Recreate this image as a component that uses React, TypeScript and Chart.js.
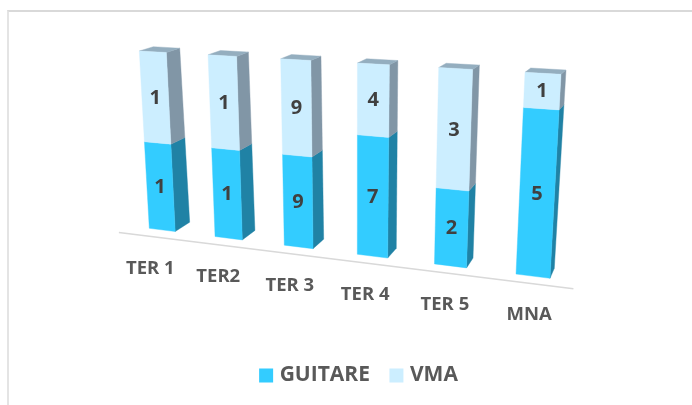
import React, { useEffect, useRef } from "react";
import { Chart, registerables } from "chart.js";

Chart.register(...registerables);

const categories = ["TER 1", "TER2", "TER 3", "TER 4", "TER 5", "MNA"];
const guitare = [1, 1, 9, 7, 2, 5];
const vma = [1, 1, 9, 4, 3, 1];

const shareOf = (own: number[], other: number[]) =>
  own.map((v, i) => (v / (v + other[i])) * 100);

type Pt = [number, number];

// Camera: where the plot's front and rear planes land on the picture
const FRONT_PLANE: Pt[] = [[149.3, 228.3], [550, 278.3], [561, 74.3], [139.3, 51]];
const REAR_PLANE: Pt[] = [[164.5, 219], [554.3, 268.3], [566, 70], [153.3, 46.7]];
const BAR_SHARE = 0.4;
const AXIS_DEPTH = -0.72;
const LABEL_DEPTH = -0.8;
const LABEL_DROP = 31;

function homography(src: Pt[], dst: Pt[]) {
  const a: number[][] = [];
  for (let i = 0; i < 4; i++) {
    const [x, y] = src[i];
    const [X, Y] = dst[i];
    a.push([x, y, 1, 0, 0, 0, -x * X, -y * X, X]);
    a.push([0, 0, 0, x, y, 1, -x * Y, -y * Y, Y]);
  }
  for (let c = 0; c < 8; c++) {
    let p = c;
    for (let r = c + 1; r < 8; r++) if (Math.abs(a[r][c]) > Math.abs(a[p][c])) p = r;
    [a[c], a[p]] = [a[p], a[c]];
    for (let r = 0; r < 8; r++) {
      if (r === c) continue;
      const f = a[r][c] / a[c][c];
      for (let k = c; k < 9; k++) a[r][k] -= f * a[c][k];
    }
  }
  const h = a.map((row, i) => row[8] / row[i]);
  return (x: number, y: number): Pt => {
    const w = h[6] * x + h[7] * y + 1;
    return [(h[0] * x + h[1] * y + h[2]) / w, (h[3] * x + h[4] * y + h[5]) / w];
  };
}

function fillPoly(ctx: CanvasRenderingContext2D, pts: Pt[], color: string) {
  ctx.beginPath();
  pts.forEach((p, i) => (i ? ctx.lineTo(p[0], p[1]) : ctx.moveTo(p[0], p[1])));
  ctx.closePath();
  ctx.fillStyle = color;
  ctx.strokeStyle = color;
  ctx.lineWidth = 0.4;
  ctx.fill();
  ctx.stroke();
}

const perspectiveBars = {
  id: "perspectiveBars",
  beforeDatasetsDraw(chart: any) {
    const ctx: CanvasRenderingContext2D = chart.ctx;
    const xs = chart.scales.x;
    const ys = chart.scales.y;
    const n = categories.length;
    const band = (xs.right - xs.left) / n;
    const half = (band * BAR_SHARE) / 2;
    const l = xs.getPixelForTick(0) - half;
    const r = xs.getPixelForTick(n - 1) + half;
    const b = ys.getPixelForValue(0);
    const t = ys.getPixelForValue(100);
    const src: Pt[] = [[l, b], [r, b], [r, t], [l, t]];
    const front = homography(src, FRONT_PLANE);
    const rear = homography(src, REAR_PLANE);
    const atDepth = (x: number, y: number, d: number): Pt => {
      const f = front(x, y);
      const g = rear(x, y);
      return [f[0] + d * (g[0] - f[0]), f[1] + d * (g[1] - f[1])];
    };

    ctx.save();

    // floor line
    ctx.beginPath();
    const a0 = atDepth(xs.left, b, AXIS_DEPTH);
    const a1 = atDepth(xs.right, b, AXIS_DEPTH);
    ctx.moveTo(a0[0], a0[1]);
    ctx.lineTo(a1[0], a1[1]);
    ctx.strokeStyle = "#d9d9d9";
    ctx.lineWidth = 1.5;
    ctx.stroke();

    // bars
    chart.data.datasets.forEach((ds: any, di: number) => {
      const last = di === chart.data.datasets.length - 1;
      chart.getDatasetMeta(di).data.forEach((el: any) => {
        const { x, y, base, width } = el.getProps(["x", "y", "base", "width"], true);
        const x0 = x - width / 2;
        const x1 = x + width / 2;
        fillPoly(ctx, [front(x1, base), rear(x1, base), rear(x1, y), front(x1, y)], ds.sideColor);
        if (last) fillPoly(ctx, [front(x0, y), front(x1, y), rear(x1, y), rear(x0, y)], ds.topColor);
        fillPoly(ctx, [front(x0, base), front(x1, base), front(x1, y), front(x0, y)], ds.backgroundColor);
      });
    });

    // value labels
    ctx.textAlign = "center";
    ctx.textBaseline = "middle";
    ctx.fillStyle = "#404040";
    ctx.font = 'bold 20px "Open Sans"';
    chart.data.datasets.forEach((ds: any, di: number) => {
      chart.getDatasetMeta(di).data.forEach((el: any, i: number) => {
        const { x, y, base } = el.getProps(["x", "y", "base"], true);
        const p = front(x, (y + base) / 2);
        ctx.fillText(String(ds.rawValues[i]), p[0], p[1]);
      });
    });

    // category labels
    ctx.fillStyle = "#595959";
    ctx.font = 'bold 18.5px "Open Sans"';
    categories.forEach((c, i) => {
      const p = atDepth(xs.getPixelForTick(i), b, LABEL_DEPTH);
      ctx.fillText(c, p[0], p[1] + LABEL_DROP);
    });

    ctx.restore();
    return false;
  },
};

export default function App() {
  const ref = useRef<HTMLCanvasElement>(null);
  useEffect(() => {
    document.body.style.margin = "0";
    document.body.style.overflow = "hidden";
    const chart = new Chart(ref.current!, {
      type: "bar",
      plugins: [perspectiveBars],
      data: {
        labels: categories,
        datasets: [
          {
            label: "GUITARE",
            data: shareOf(guitare, vma),
            rawValues: guitare,
            backgroundColor: "#33ccff",
            borderColor: "#33ccff",
            borderWidth: 8,
            sideColor: "#2082a5",
            topColor: "#2f9fc6",
            barPercentage: BAR_SHARE,
            categoryPercentage: 1,
          },
          {
            label: "VMA",
            data: shareOf(vma, guitare),
            rawValues: vma,
            backgroundColor: "#cceeff",
            borderColor: "#cceeff",
            borderWidth: 8,
            sideColor: "#8196a6",
            topColor: "#94aebf",
            barPercentage: BAR_SHARE,
            categoryPercentage: 1,
          },
        ] as any,
      },
      options: {
        responsive: false,
        animation: false,
        layout: { padding: { left: 29, right: 0, top: 0, bottom: 9 } },
        scales: {
          x: { stacked: true, display: true, grid: { display: false }, border: { display: false }, ticks: { display: false } },
          y: { stacked: true, display: false, min: 0, max: 100 },
        },
        plugins: {
          title: { display: false },
          tooltip: { enabled: false },
          legend: {
            display: true,
            position: "bottom",
            labels: {
              boxWidth: 6,
              boxHeight: 6,
              padding: 23.5,
              color: "#595959",
              font: { family: '"Open Sans"', weight: "bold", size: 21 },
            },
          },
        },
      },
    });
    return () => chart.destroy();
  }, []);

  return (
    <div style={{ position: "absolute", left: 0, top: 0, width: 692, height: 405, overflow: "hidden", background: "#fff" }}>
      <div style={{ position: "absolute", left: 7, top: 10, right: 0, bottom: 0, borderLeft: "2px solid #e4e4e4", borderTop: "2px solid #d9d9d9" }} />
      <canvas ref={ref} width={692} height={405} style={{ position: "absolute", left: 0, top: 0, display: "block" }} />
    </div>
  );
}
